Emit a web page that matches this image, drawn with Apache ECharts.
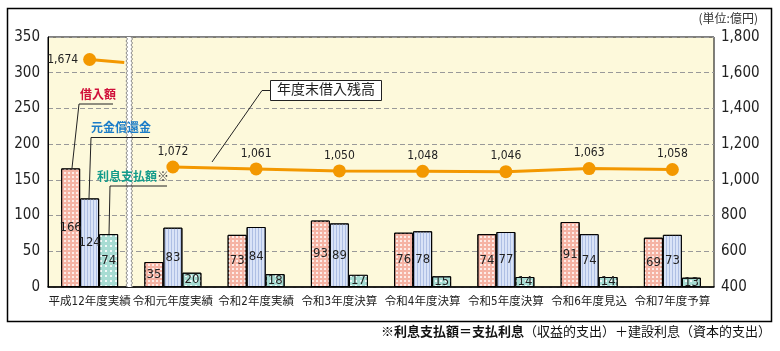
<!DOCTYPE html>
<html>
<head>
<meta charset="utf-8">
<script src="https://cdn.jsdelivr.net/npm/echarts@6/dist/echarts.min.js"></script>
<style>
  html, body { margin: 0; padding: 0; background: #fff; }
  #chart { width: 780px; height: 351px; }
</style>
</head>
<body>
<div id="chart"></div>
<script>
const categories = ['平成12年度実績', '令和元年度実績', '令和2年度実績', '令和3年度決算', '令和4年度決算', '令和5年度決算', '令和6年度見込', '令和7年度予算'];
const borrowing = [166, 35, 73, 93, 76, 74, 91, 69];   // 借入額
const principal = [124, 83, 84, 89, 78, 77, 74, 73];   // 元金償還金
const interest = [74, 20, 18, 17, 15, 14, 14, 13];     // 利息支払額
const balance = [1674, 1072, 1061, 1050, 1048, 1046, 1063, 1058]; // 年度末借入残高

const numFont = "'Liberation Sans Narrow', 'DejaVu Sans Condensed', 'Liberation Sans', sans-serif";
const jpFont = "'Liberation Sans Narrow', 'DejaVu Sans Condensed', 'Noto Sans CJK JP', sans-serif";

const chart = echarts.init(document.getElementById('chart'), null, { renderer: 'canvas' });

const fmt = v => v.toLocaleString('en-US');

const barSeries = (name, data, color, decal) => ({
    name,
    type: 'bar',
    data,
    barWidth: 19,
    barGap: '0%',
    itemStyle: { color, borderColor: '#000', borderWidth: 1, decal },
    label: {
        show: true,
        position: 'inside',
        color: '#222',
        fontSize: 13,
        fontFamily: numFont
    },
    z: 3
});

// wavy double line marking the axis break between the first two categories
const renderBreak = (params, api) => {
    const x0 = api.coord([0, 0])[0];
    const x1 = api.coord([1, 0])[0];
    const cx = (x0 + x1) / 2 - 2;
    const top = params.coordSys.y;
    const bottom = top + params.coordSys.height;
    const wave = off => {
        const pts = [];
        for (let y = top, k = 0; y <= bottom; y += 2, k++) pts.push([cx + off + (k % 2 ? 0.8 : -0.8), y]);
        return pts;
    };
    const p = api.coord([0, api.value(1)]);
    return {
        type: 'group',
        children: [
            { type: 'line', shape: { x1: p[0], y1: p[1], x2: cx - 5, y2: p[1] + 3 },
              style: { stroke: '#f39800', lineWidth: 3 } },
            { type: 'rect', shape: { x: cx - 2.5, y: top, width: 5, height: bottom - top },
              style: { fill: '#fff' } },
            { type: 'polyline', shape: { points: wave(-2.5) }, style: { stroke: '#888', lineWidth: 1, fill: null } },
            { type: 'polyline', shape: { points: wave(2.5) }, style: { stroke: '#888', lineWidth: 1, fill: null } }
        ]
    };
};

const lbl = (text, x, y, color) => ({
    type: 'text', left: x, top: y,
    style: { text, fill: color, font: "bold 12px 'Noto Sans CJK JP', sans-serif" },
    z: 20
});
const seg = (points) => ({
    type: 'polyline', shape: { points }, style: { stroke: '#222', lineWidth: 1, fill: null }, z: 20
});

const option = {
    backgroundColor: '#fff',
    animation: false,
    grid: {
        left: 48, right: 66, top: 37, bottom: 64,
        show: true,
        backgroundColor: '#fdf9db',
        borderColor: '#000',
        borderWidth: 1
    },
    xAxis: {
        type: 'category',
        data: categories,
        axisLine: { lineStyle: { color: '#000', width: 1.5 } },
        axisTick: { show: false },
        axisLabel: { color: '#222', fontSize: 11.5, fontFamily: jpFont, margin: 9, interval: 0 }
    },
    yAxis: [
        {
            type: 'value', min: 0, max: 350, interval: 50,
            axisLine: { show: true, lineStyle: { color: '#000', width: 1 } },
            axisTick: { show: false },
            axisLabel: { color: '#222', fontSize: 15, fontFamily: numFont, margin: 8 },
            splitLine: { lineStyle: { color: '#999', type: [5, 3], width: 1 } }
        },
        {
            type: 'value', min: 400, max: 1800, interval: 200,
            axisLine: { show: false },
            axisTick: { show: false },
            axisLabel: { color: '#222', fontSize: 15, fontFamily: numFont, margin: 7, formatter: fmt },
            splitLine: { show: false }
        }
    ],
    series: [
        barSeries('借入額', borrowing, '#f5b3a4',
            { symbol: 'rect', symbolSize: 1, dashArrayX: [2, 1.5], dashArrayY: [2, 1.5], color: 'rgba(255,255,255,0.75)' }),
        barSeries('元金償還金', principal, '#d9e3f7',
            { symbol: 'rect', symbolSize: 1, dashArrayX: [1, 2], dashArrayY: [10, 0], color: '#aebfe4' }),
        barSeries('利息支払額', interest, '#a7dcd3',
            { symbol: 'rect', symbolSize: 1, dashArrayX: [2, 3], dashArrayY: [2, 3], color: 'rgba(255,255,255,0.85)' }),
        {
            name: 'break',
            type: 'custom',
            yAxisIndex: 1,
            data: [[0, balance[0]]],
            renderItem: renderBreak,
            z: 4,
            silent: true
        },
        {
            name: '年度末借入残高(平成12年度)',
            type: 'line',
            yAxisIndex: 1,
            data: balance.map((v, i) => (i === 0 ? v : null)),
            symbol: 'circle', symbolSize: 13,
            itemStyle: { color: '#f39800' },
            lineStyle: { color: '#f39800', width: 3 },
            label: { show: true, position: 'left', distance: 5, color: '#222', fontSize: 12, fontFamily: numFont, formatter: p => fmt(p.value) },
            z: 6
        },
        {
            name: '年度末借入残高',
            type: 'line',
            yAxisIndex: 1,
            data: balance.map((v, i) => (i === 0 ? null : v)),
            symbol: 'circle', symbolSize: 13,
            itemStyle: { color: '#f39800' },
            lineStyle: { color: '#f39800', width: 3 },
            label: { show: true, position: 'top', distance: 3, color: '#222', fontSize: 12, fontFamily: numFont, formatter: p => fmt(p.value) },
            z: 6
        }
    ],
    graphic: [
        { type: 'rect', shape: { x: 7.5, y: 8.5, width: 764, height: 313 },
          style: { fill: null, stroke: '#000', lineWidth: 1.5 }, z: 0, silent: true },
        { type: 'text', right: 22, top: 12,
          style: { text: '(単位:億円)', fill: '#333', font: "12px 'Noto Sans CJK JP', sans-serif" } },
        { type: 'text', right: 9, top: 325,
          style: {
              text: '{b|※利息支払額＝支払利息}{n|（収益的支出）＋建設利息（資本的支出）}',
              rich: {
                  b: { fill: '#111', font: "bold 13px 'Noto Sans CJK JP', sans-serif" },
                  n: { fill: '#111', font: "13px 'Noto Sans CJK JP', sans-serif" }
              }
          } },
        // 借入額
        lbl('借入額', 80, 88, '#d0103a'),
        seg([[113, 104], [79, 104], [72, 168]]),
        // 元金償還金
        lbl('元金償還金', 91, 121, '#1a7cc8'),
        seg([[149, 137.5], [91, 137.5], [89, 198]]),
        // 利息支払額※
        { type: 'text', left: 97, top: 170, z: 20,
          style: {
              text: '{t|利息支払額}{m|※}',
              rich: {
                  t: { fill: '#139b8a', font: "bold 12px 'Noto Sans CJK JP', sans-serif" },
                  m: { fill: '#444', font: "12px 'Noto Sans CJK JP', sans-serif" }
              }
          } },
        seg([[167, 186], [110, 186], [109, 234]]),
        // 年度末借入残高
        { type: 'rect', shape: { x: 270.5, y: 80.5, width: 111, height: 20 },
          style: { fill: '#fff', stroke: '#222', lineWidth: 1 }, z: 20 },
        { type: 'text', left: 277, top: 82, z: 21,
          style: { text: '年度末借入残高', fill: '#222', font: "14px 'Noto Sans CJK JP', sans-serif" } },
        seg([[270, 90.5], [262, 90.5], [212, 162]])
    ]
};

chart.setOption(option);
</script>
</body>
</html>
